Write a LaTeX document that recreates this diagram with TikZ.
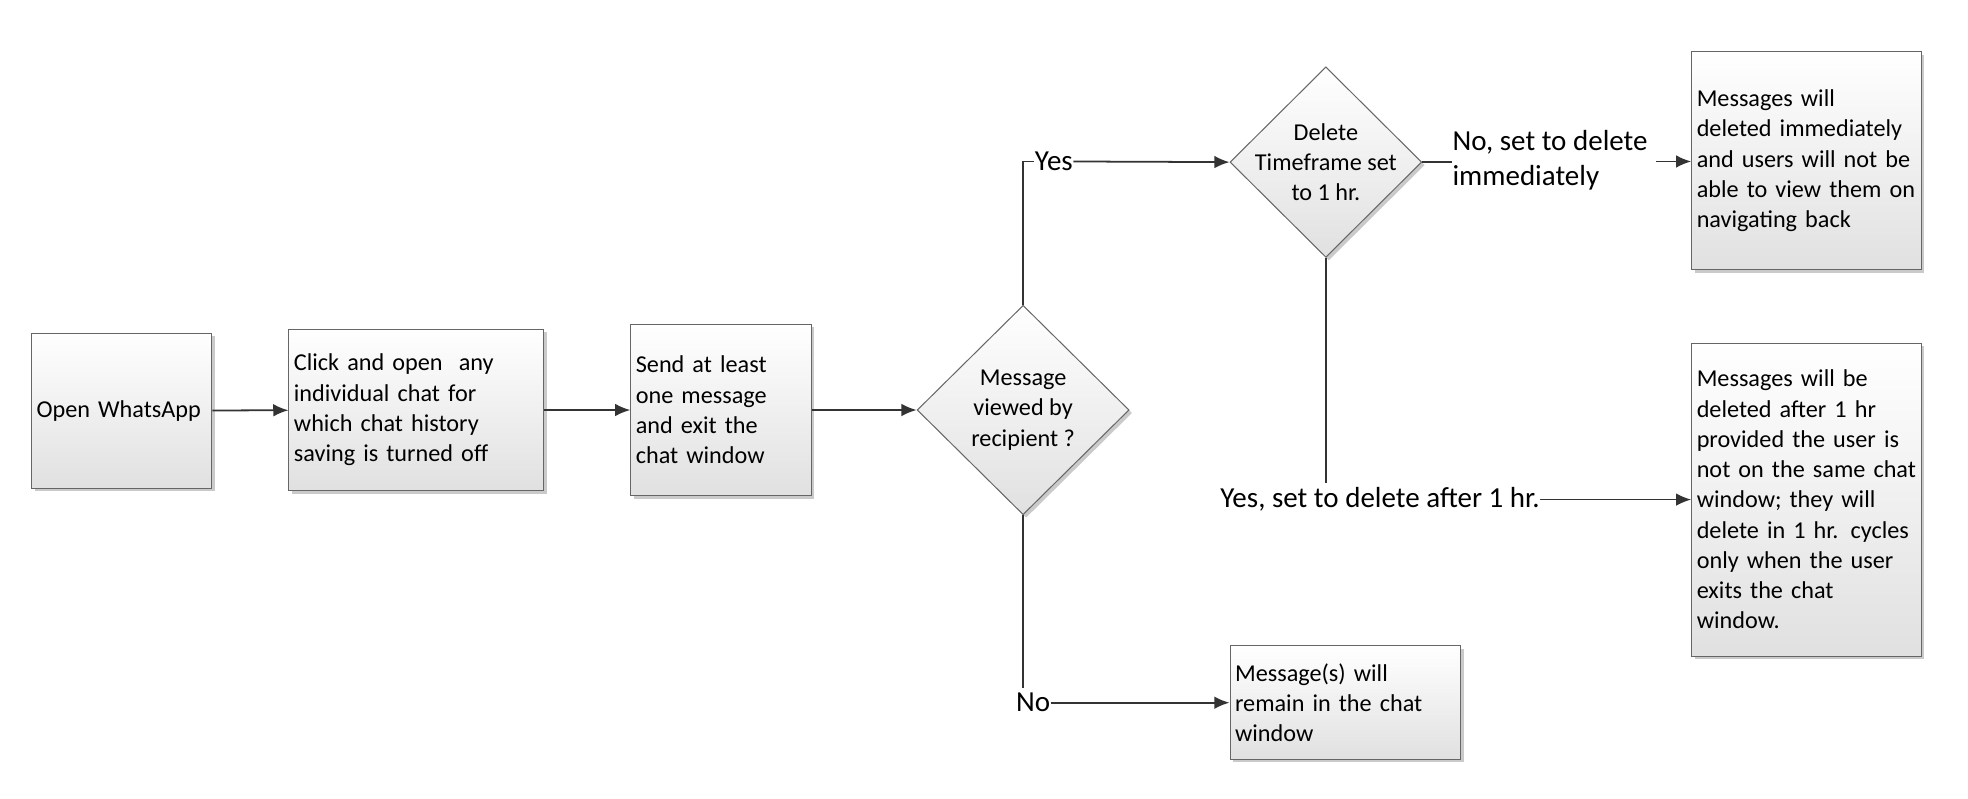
\documentclass[tikz,border=0pt]{standalone}
\usepackage{fontspec}
\setmainfont{Carlito}
\usetikzlibrary{shapes.geometric,arrows.meta,shadows}
\begin{document}
\begin{tikzpicture}[x=0.5pt,y=-0.5pt,
  sh/.style={drop shadow={shadow xshift=1.2pt,shadow yshift=-1.2pt,fill=black!35,opacity=0.6}},
  box/.style={draw=black!60,line width=0.4pt,sh,top color=white,bottom color=black!12,
    rectangle,inner xsep=2pt,inner ysep=0pt,align=left,font=\fontsize{9.6pt}{12pt}\selectfont},
  dia/.style={draw=black!60,line width=0.4pt,sh,top color=white,bottom color=black!12,
    diamond,inner sep=0pt},
  dtext/.style={align=center,inner sep=0pt,font=\fontsize{9.6pt}{12pt}\selectfont},
  lab/.style={inner sep=0pt,font=\fontsize{11.5pt}{14pt}\selectfont,align=left},
  ln/.style={draw=black!80,line width=0.7pt},
  arr/.style={ln,-{Latex[length=6pt,width=5pt]}}]
\useasboundingbox (0,0) rectangle (1560,633);
\node[box,minimum width=71.5pt,minimum height=61.5pt,text width=67.5pt] (open) at (96.5,325.5) {Open WhatsApp};
\node[box,minimum width=101pt,minimum height=64pt,text width=97pt] (click) at (330,325) {Click and open\ \ any\\individual chat for\\which chat history\\saving is turned off};
\node[box,minimum width=71.5pt,minimum height=68pt,text width=67.5pt] (send) at (571.5,325) {Send at least\\one message\\and exit the\\chat window};
\node[dia,minimum width=84pt,minimum height=83pt] (d1) at (811,325) {};
\node[dtext] (d1t) at (d1.center) {Message\\viewed by\\recipient ?};
\node[dia,minimum width=76pt,minimum height=75.5pt] (d2) at (1051,128.5) {};
\node[dtext] (d2t) at (d2.center) {Delete\\Timeframe set\\to 1 hr.};
\node[box,minimum width=91pt,minimum height=86.5pt,text width=87pt] (b1) at (1432,127.5) {Messages will\\deleted immediately\\and users will not be\\able to view them on\\navigating back};
\node[box,minimum width=91pt,minimum height=124pt,text width=87pt] (b2) at (1432,396) {Messages will be\\deleted after 1 hr\\provided the user is\\not on the same chat\\window; they will\\delete in 1 hr. cycles\\only when the user\\exits the chat\\window.};
\node[box,minimum width=91.5pt,minimum height=45pt,text width=87.5pt] (b3) at (1066.5,557) {Message(s) will\\remain in the chat\\window};
\node[lab,anchor=west] (yes) at (820,128) {Yes};
\node[lab,anchor=west] (no) at (805,557) {No};
\node[lab,anchor=west] (nolab) at (1151,127) {No, set to delete\\immediately};
\node[lab,anchor=west] (yeslab) at (967,396) {Yes, set to delete after 1 hr.};
\coordinate (nolabr) at (1313,128);
\draw[arr] (open) -- (click);
\draw[arr] (click) -- (send);
\draw[arr] (send) -- (d1);
\draw[ln] (d1.north) |- (yes.west);
\draw[arr] (yes.east) -- (d2.west);
\draw[ln] (d1.south) -- (811,545);
\draw[arr] (no.east) -- (b3.west);
\draw[ln] (d2.east) -- (nolab.west |- d2.east);
\draw[arr] (nolabr) -- (b1.west |- nolabr);
\draw[ln] (d2.south) -- (1051,383);
\draw[arr] (yeslab.east) -- (b2.west |- yeslab.east);
\end{tikzpicture}
\end{document}
